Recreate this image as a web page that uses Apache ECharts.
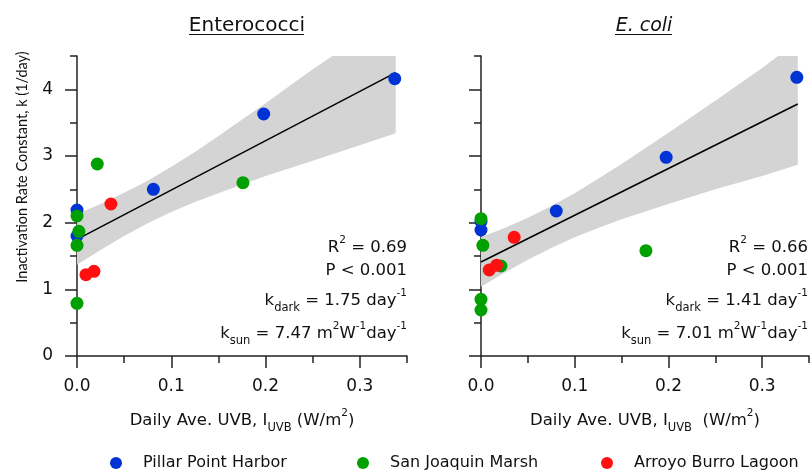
<!DOCTYPE html>
<html><head><meta charset="utf-8">
<script src="https://cdn.jsdelivr.net/npm/echarts@6/dist/echarts.min.js"></script>
<style>html,body{margin:0;padding:0;background:#fff}#c{width:812px;height:472px}</style>
</head><body><div id="c"></div>
<script>
const FONT = '"DejaVu Sans", "Noto Sans", sans-serif';
const FONT_NARROW = 'Lato, "Noto Sans", sans-serif';
const seriesNames = ['Pillar Point Harbor', 'San Joaquin Marsh', 'Arroyo Burro Lagoon'];
const seriesColors = ['#0033d6', '#00a000', '#ff1010'];

// Enterococci panel
const enteroPillar = [[0.337, 4.16], [0.198, 3.63], [0.081, 2.50], [0, 2.19], [0, 1.80]];
const enteroSanJoaquin = [[0.0215, 2.88], [0.176, 2.60], [0, 2.10], [0.002, 1.87], [0, 1.66], [0, 0.79]];
const enteroArroyo = [[0.036, 2.28], [0.0095, 1.22], [0.018, 1.27]];
const enteroFit = [[0, 1.75], [0.338, 4.25]];
const enteroBandUpper = [[0, 2.13], [0.025, 2.28], [0.05, 2.45], [0.075, 2.63], [0.1, 2.84], [0.125, 3.06], [0.15, 3.30], [0.2, 3.79], [0.25, 4.30], [0.271, 4.5], [0.338, 4.5]];
const enteroBandLower = [[0, 1.37], [0.025, 1.59], [0.05, 1.80], [0.075, 1.99], [0.1, 2.16], [0.125, 2.31], [0.15, 2.44], [0.2, 2.70], [0.25, 2.93], [0.3, 3.16], [0.338, 3.34]];

// E. coli panel
const ecoliPillar = [[0.337, 4.18], [0.1976, 2.98], [0.0803, 2.175], [0, 2.02], [0, 1.89]];
const ecoliSanJoaquin = [[0, 2.06], [0.002, 1.66], [0.0212, 1.35], [0.176, 1.58], [0, 0.85], [0, 0.69]];
const ecoliArroyo = [[0.0354, 1.78], [0.0088, 1.29], [0.0166, 1.36]];
const ecoliFit = [[0, 1.41], [0.338, 3.78]];
const ecoliBandUpper = [[0, 1.78], [0.025, 1.92], [0.05, 2.075], [0.075, 2.25], [0.1, 2.44], [0.125, 2.66], [0.15, 2.88], [0.2, 3.35], [0.25, 3.83], [0.3, 4.32], [0.317, 4.5], [0.338, 4.5]];
const ecoliBandLower = [[0, 1.04], [0.025, 1.25], [0.05, 1.445], [0.075, 1.62], [0.1, 1.78], [0.125, 1.92], [0.15, 2.05], [0.2, 2.28], [0.25, 2.50], [0.3, 2.70], [0.338, 2.87]];

const xMin = 0, xMax = 0.35, xMinorStep = 0.05, xMajorTicks = [0, 0.1, 0.2, 0.3];
const yMin = 0, yMax = 4.5, yMinorStep = 0.5, yMajorTicks = [0, 1, 2, 3, 4];

const panelTitles = ['Enterococci', 'E. coli'];
const statsEntero = { r2: '0.69', p: '0.001', kdark: '1.75', ksun: '7.47' };
const statsEcoli = { r2: '0.66', p: '0.001', kdark: '1.41', ksun: '7.01' };

const AX = '#222';
const grids = [
  { left: 77, top: 56, width: 330, height: 300 },
  { left: 481, top: 56, width: 330, height: 300 }
];

const rich = {
  a: { fontSize: 16.5, fontFamily: FONT, lineHeight: 26, color: '#111' },
  s: { fontSize: 10.5, fontFamily: FONT, verticalAlign: 'top', lineHeight: 12, color: '#111' },
  b: { fontSize: 11.5, fontFamily: FONT, verticalAlign: 'bottom', lineHeight: 12, color: '#111' }
};

function xAxes(gi, nameRich) {
  return [
    { gridIndex: gi, type: 'value', min: xMin, max: xMax, interval: xMinorStep, position: 'bottom',
      axisLine: { show: true, onZero: false, lineStyle: { color: AX, width: 1.5 } },
      axisTick: { show: true, length: 7, lineStyle: { color: AX, width: 1.5 } },
      axisLabel: { show: true, margin: 22, fontSize: 17, fontFamily: FONT, color: '#111',
        formatter: v => (Math.abs(Math.round(v * 100) % 10) < 1e-6 ? v.toFixed(1) : '') },
      splitLine: { show: false },
      name: nameRich, nameLocation: 'middle', nameGap: 52,
      nameTextStyle: { fontSize: 16.5, fontFamily: FONT, color: '#111', rich: rich } },
    { gridIndex: gi, type: 'value', min: xMin, max: xMax, interval: 0.1, position: 'bottom',
      axisLine: { show: false, onZero: false },
      axisTick: { show: true, length: 12, customValues: xMajorTicks, lineStyle: { color: AX, width: 1.5 } },
      axisLabel: { show: false }, splitLine: { show: false } }
  ];
}
function yAxes(gi, showLabels) {
  return [
    { gridIndex: gi, type: 'value', min: yMin, max: yMax, interval: yMinorStep, position: 'left',
      axisLine: { show: true, onZero: false, lineStyle: { color: AX, width: 1.5 } },
      axisTick: { show: true, length: 7, lineStyle: { color: AX, width: 1.5 } },
      axisLabel: { show: showLabels, margin: 24, fontSize: 17, fontFamily: FONT, color: '#111',
        formatter: v => (Math.abs(v - Math.round(v)) < 1e-6 ? String(Math.round(v)) : '') },
      splitLine: { show: false } },
    { gridIndex: gi, type: 'value', min: yMin, max: yMax, interval: 1, position: 'left',
      axisLine: { show: false, onZero: false },
      axisTick: { show: true, length: 12, customValues: yMajorTicks, lineStyle: { color: AX, width: 1.5 } },
      axisLabel: { show: false }, splitLine: { show: false } }
  ];
}

function bandSeries(upper, lower, xi, yi) {
  return {
    type: 'custom', xAxisIndex: xi, yAxisIndex: yi, silent: true, z: 1,
    data: [[0, 0]],
    renderItem: (params, api) => {
      const pts = upper.map(p => api.coord(p)).concat(lower.slice().reverse().map(p => api.coord(p)));
      return { type: 'polygon', shape: { points: pts }, style: { fill: '#d4d4d4' } };
    }
  };
}
function fitSeries(data, xi, yi) {
  return { type: 'line', xAxisIndex: xi, yAxisIndex: yi, data: data, symbol: 'none', z: 2,
    lineStyle: { color: '#000', width: 1.5 }, silent: true };
}
function scatterSeries(groups, xi, yi) {
  return groups.map((d, i) => ({
    type: 'scatter', name: seriesNames[i], xAxisIndex: xi, yAxisIndex: yi, data: d,
    symbol: 'circle', symbolSize: 13, z: 3, itemStyle: { color: seriesColors[i], opacity: 1 }
  }));
}

function statTexts(st, xr) {
  const lines = [
    ['{a|R}{s|2}{a| = ' + st.r2 + '}', 248],
    ['{a|P < ' + st.p + '}', 271],
    ['{a|k}{b|dark}{a| = ' + st.kdark + ' day}{s|-1}', 301],
    ['{a|k}{b|sun}{a| = ' + st.ksun + ' m}{s|2}{a|W}{s|-1}{a|day}{s|-1}', 334]
  ];
  return lines.map(([t, y]) => ({
    type: 'text', silent: true, z: 10,
    style: { text: t, x: xr, y: y, align: 'right', verticalAlign: 'middle', rich: rich, fill: '#111' }
  }));
}

const chart = echarts.init(document.getElementById('c'), null, { renderer: 'canvas' });
const option = {
  animation: false,
  backgroundColor: '#fff',
  textStyle: { fontFamily: FONT },
  grid: grids,
  xAxis: [].concat(
    xAxes(0, '{a|Daily Ave. UVB, I}{b|UVB}{a| (W/m}{s|2}{a|)}'),
    xAxes(1, '{a|Daily Ave. UVB, I}{b|UVB}{a|  (W/m}{s|2}{a|)}')
  ),
  yAxis: [].concat(yAxes(0, true), yAxes(1, false)),
  legend: seriesNames.map((n, i) => ({
    data: [n], left: [105, 352, 596][i], top: 450, icon: 'circle', itemWidth: 12, itemHeight: 12,
    selectedMode: false,
    textStyle: { fontSize: 16, fontFamily: FONT, color: '#111', padding: [0, 0, 0, 16] }
  })),
  series: [].concat(
    [bandSeries(enteroBandUpper, enteroBandLower, 0, 0), fitSeries(enteroFit, 0, 0)],
    scatterSeries([enteroPillar, enteroSanJoaquin, enteroArroyo], 0, 0),
    [bandSeries(ecoliBandUpper, ecoliBandLower, 2, 2), fitSeries(ecoliFit, 2, 2)],
    scatterSeries([ecoliPillar, ecoliSanJoaquin, ecoliArroyo], 2, 2)
  ),
  graphic: [].concat(
    [
      { type: 'text', silent: true, style: { text: panelTitles[0], x: 247, y: 26, align: 'center', verticalAlign: 'middle',
        fontSize: 20, fontFamily: FONT, fill: '#111' } },
      { type: 'line', silent: true, shape: { x1: 189, y1: 34.5, x2: 304, y2: 34.5 }, style: { stroke: '#111', lineWidth: 1 } },
      { type: 'text', silent: true, style: { text: panelTitles[1], x: 644, y: 26, align: 'center', verticalAlign: 'middle',
        fontSize: 19, fontStyle: 'italic', fontFamily: FONT, fill: '#111' } },
      { type: 'line', silent: true, shape: { x1: 615, y1: 34.5, x2: 672, y2: 34.5 }, style: { stroke: '#111', lineWidth: 1 } },
      { type: 'text', silent: true, x: 22, y: 167, rotation: Math.PI / 2,
        style: { text: 'Inactivation Rate Constant, k (1/day)', x: 0, y: 0, align: 'center', verticalAlign: 'middle',
          fontSize: 14.5, fontFamily: FONT_NARROW, fill: '#111' } }
    ],
    statTexts(statsEntero, 407),
    statTexts(statsEcoli, 808)
  )
};
chart.setOption(option);
</script>
</body></html>
